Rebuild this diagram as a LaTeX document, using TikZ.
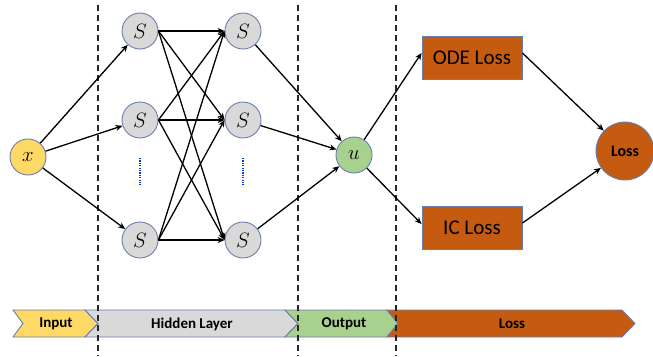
\documentclass[tikz,border=0pt]{standalone}
\usepackage{fontspec}
\setmainfont{Carlito}
\usetikzlibrary{arrows.meta}
\definecolor{bord}{HTML}{6A7DAE}
\definecolor{grayf}{HTML}{D9D9D9}
\definecolor{yelf}{HTML}{FFD966}
\definecolor{grnf}{HTML}{A9D18E}
\definecolor{orf}{HTML}{C55A11}
\tikzset{
  neuron/.style={circle,draw=bord,line width=0.9pt,minimum size=36pt,inner sep=0pt,font=\fontsize{20}{20}\selectfont},
  hid/.style={neuron,fill=grayf},
  lossbox/.style={rectangle,draw=bord,line width=0.9pt,fill=orf,minimum width=100pt,minimum height=43pt,font=\fontsize{21}{21}\selectfont},
  conn/.style={line width=1.3pt,-{Stealth[length=7pt,width=6pt]}},
  sep/.style={line width=1.1pt,dash pattern=on 6pt off 4pt,black!85},
  bar/.style={draw=bord,line width=0.9pt},
  barlabel/.style={font=\fontsize{15}{15}\selectfont\bfseries},
  vdots/.style={line width=1.8pt,dash pattern=on 1.2pt off 1.2pt,draw=blue!70!cyan!80!black}
}
\begin{document}
\begin{tikzpicture}[x=1pt,y=-1pt]
\useasboundingbox (0,0) rectangle (653,356);
% separators
\draw[sep] (98,5) -- (98,356);
\draw[sep] (298,5) -- (298,356);
\draw[sep] (396,5) -- (396,356);
% bottom bar
\draw[bar,fill=yelf] (13,310) -- (85,310) -- (98,323.5) -- (85,337) -- (13,337) -- (23,323.5) -- cycle;
\draw[bar,fill=grayf] (85,310) -- (285,310) -- (298,323.5) -- (285,337) -- (85,337) -- (98,323.5) -- cycle;
\draw[bar,fill=grnf] (285,310) -- (387,310) -- (398,323.5) -- (387,337) -- (285,337) -- (298,323.5) -- cycle;
\draw[bar,fill=orf] (387,310) -- (622,310) -- (635,323.5) -- (622,337) -- (387,337) -- (398,323.5) -- cycle;
\draw[sep] (98,305) -- (98,356);
\draw[sep] (298,305) -- (298,356);
\draw[sep] (396,305) -- (396,356);
\node[barlabel] (lin) at (56,324) {Input};
\node[barlabel] (lhid) at (192,324) {Hidden Layer};
\node[barlabel] (lout) at (344,324) {Output};
\node[barlabel] (lloss) at (512,324) {Loss};
% nodes
\node[neuron,fill=yelf,font=\fontsize{22}{22}\selectfont] (x) at (28,157) {$x$};
\node[hid] (a1) at (140,31) {$S$};
\node[hid] (a2) at (140,120) {$S$};
\node[hid] (a3) at (140,240) {$S$};
\node[hid] (b1) at (243,31) {$S$};
\node[hid] (b2) at (243,120) {$S$};
\node[hid] (b3) at (243,240) {$S$};
\node[neuron,fill=grnf,font=\fontsize{22}{22}\selectfont] (u) at (354,155) {$u$};
\node[lossbox] (ode) at (472,58) {ODE Loss};
\node[lossbox] (ic) at (472,228) {IC Loss};
\node[circle,draw=bord,line width=0.9pt,fill=orf,minimum size=58pt,inner sep=0pt,font=\fontsize{16}{16}\selectfont\bfseries] (loss) at (625,151) {Loss};
% vertical dots
\coordinate (d1a) at (140,158); \coordinate (d1b) at (140,185);
\coordinate (d2a) at (243,158); \coordinate (d2b) at (243,185);
\draw[vdots] (d1a) -- (d1b);
\draw[vdots] (d2a) -- (d2b);
% connectors
\foreach \t in {a1,a2,a3} \draw[conn] (x) -- (\t);
\foreach \s in {a1,a2,a3} \foreach \t in {b1,b2,b3} \draw[conn] (\s.east) -- (\t.west);
\foreach \s in {b1,b2,b3} \draw[conn] (\s) -- (u);
\draw[conn] (u) -- ([yshift=5pt]ode.west);
\draw[conn] (u) -- ([yshift=4pt]ic.west);
\draw[conn] ([yshift=5pt]ode.east) -- (loss);
\draw[conn] ([yshift=5pt]ic.east) -- (loss);
\end{tikzpicture}
\end{document}
